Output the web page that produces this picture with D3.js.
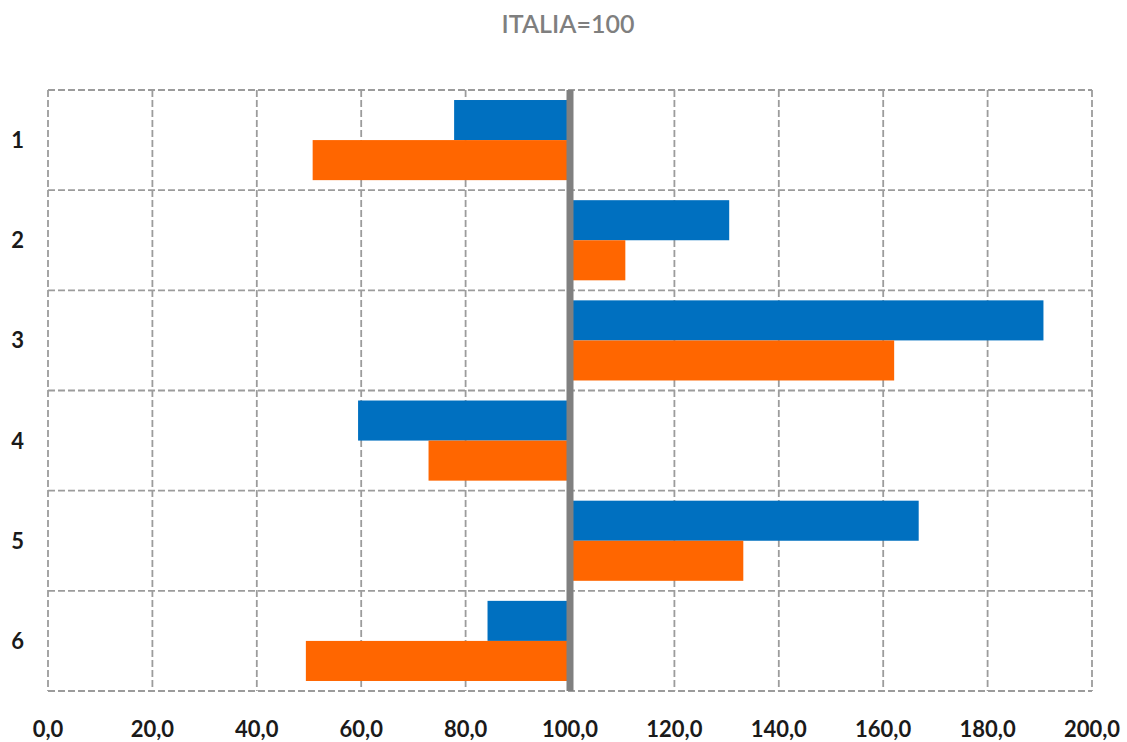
<!DOCTYPE html>
<html>
<head>
<meta charset="utf-8">
<script src="https://cdn.jsdelivr.net/npm/d3@7"></script>
<style>
  body { margin: 0; background: #fff; }
  svg { display: block; }
</style>
</head>
<body>
<script>
// values, index vs ITALIA = 100
const categories = ["1", "2", "3", "4", "5", "6"];
const seriesBlue = [77.8, 130.5, 190.7, 59.4, 166.8, 84.2];
const seriesOrange = [50.7, 110.6, 162.1, 72.9, 133.2, 49.4];
const xTicks = [0, 20, 40, 60, 80, 100, 120, 140, 160, 180, 200];
const baseline = 100;
const titleText = "ITALIA=100";

const width = 1127, height = 742;
const margin = {top: 90, right: 35, bottom: 51, left: 48};

const svg = d3.select("body").append("svg")
  .attr("width", width)
  .attr("height", height);

const x = d3.scaleLinear()
  .domain([0, 200])
  .range([margin.left, width - margin.right]);

// full category bands, bars take the middle 80%
const band = d3.scaleBand()
  .domain(categories)
  .range([margin.top, height - margin.bottom]);

const sub = d3.scaleBand()
  .domain(["blue", "orange"])
  .range([0, band.bandwidth() * 0.8]);

const colour = {blue: "#0070c0", orange: "#ff6600"};

// title
svg.append("text")
  .attr("x", 568)
  .attr("y", 33)
  .attr("text-anchor", "middle")
  .style("font-family", "Lato, 'Open Sans', sans-serif")
  .style("font-size", "25px")
  .style("font-weight", "600")
  .style("fill", "#7f7f7f")
  .text(titleText);

// grid
const grid = svg.append("g")
  .attr("stroke", "#9c9c9c")
  .attr("stroke-width", 1.8)
  .attr("stroke-dasharray", "7,3")
  .attr("fill", "none");

grid.selectAll("line.v")
  .data(xTicks)
  .enter().append("line")
  .attr("class", "v")
  .attr("x1", d => x(d)).attr("x2", d => x(d))
  .attr("y1", margin.top).attr("y2", height - margin.bottom);

const hLines = categories.map(c => band(c)).concat([height - margin.bottom]);
grid.selectAll("line.h")
  .data(hLines)
  .enter().append("line")
  .attr("class", "h")
  .attr("x1", x(0)).attr("x2", x(200))
  .attr("y1", d => d).attr("y2", d => d);

// bars
const rows = categories.map((c, i) => ({
  cat: c,
  values: [{key: "blue", v: seriesBlue[i]}, {key: "orange", v: seriesOrange[i]}]
}));

const rowG = svg.selectAll("g.row")
  .data(rows)
  .enter().append("g")
  .attr("class", "row")
  .attr("transform", d => `translate(0,${band(d.cat) + band.bandwidth() * 0.1})`);

rowG.selectAll("rect")
  .data(d => d.values)
  .enter().append("rect")
  .attr("x", d => x(Math.min(d.v, baseline)))
  .attr("width", d => Math.abs(x(d.v) - x(baseline)))
  .attr("y", d => sub(d.key))
  .attr("height", sub.bandwidth())
  .attr("fill", d => colour[d.key]);

// thick axis line at 100
svg.append("line")
  .attr("x1", x(baseline)).attr("x2", x(baseline))
  .attr("y1", margin.top).attr("y2", height - margin.bottom)
  .attr("stroke", "#808080")
  .attr("stroke-width", 7);

// x tick labels
const fmt = d => d3.format(".1f")(d).replace(".", ",");
svg.selectAll("text.xt")
  .data(xTicks)
  .enter().append("text")
  .attr("class", "xt")
  .attr("x", d => x(d))
  .attr("y", 737)
  .attr("text-anchor", "middle")
  .style("font-family", "Lato, 'Open Sans', sans-serif")
  .style("font-size", "22px")
  .style("font-weight", "bold")
  .style("fill", "#1a1a1a")
  .text(fmt);

// category labels
svg.selectAll("text.yt")
  .data(categories)
  .enter().append("text")
  .attr("class", "yt")
  .attr("x", 24)
  .attr("y", d => band(d) + band.bandwidth() / 2)
  .attr("dy", "0.36em")
  .attr("text-anchor", "end")
  .style("font-family", "Lato, 'Open Sans', sans-serif")
  .style("font-size", "22px")
  .style("font-weight", "bold")
  .style("fill", "#1a1a1a")
  .text(d => d);
</script>
</body>
</html>
